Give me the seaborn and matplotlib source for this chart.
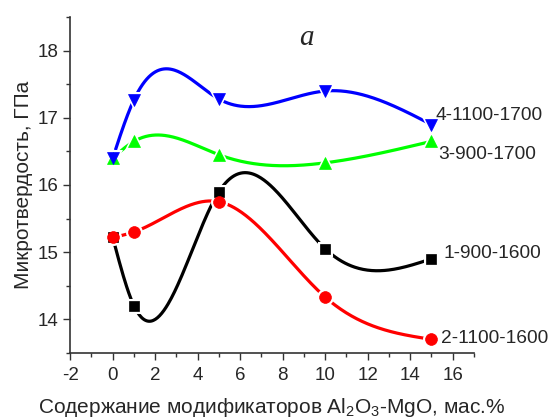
import matplotlib.pyplot as plt
from matplotlib.ticker import MultipleLocator
import seaborn as sns
import numpy as np
import pandas as pd

# data
content = [0, 1, 5, 10, 15]
s1_900_1600 = [15.22, 14.2, 15.9, 15.05, 14.9]
s2_1100_1600 = [15.22, 15.3, 15.75, 14.33, 13.7]
s3_900_1700 = [16.4, 16.65, 16.45, 16.33, 16.65]
s4_1100_1700 = [16.4, 17.27, 17.28, 17.4, 16.9]
labels = ['1-900-1600', '2-1100-1600', '3-900-1700', '4-1100-1700']


def natural_spline(x, y, n=300):
    '''Natural cubic spline through the points, like Origin's spline line.'''
    x = np.asarray(x, float)
    y = np.asarray(y, float)
    k = len(x)
    h = np.diff(x)
    A = np.zeros((k, k))
    b = np.zeros(k)
    A[0, 0] = A[-1, -1] = 1
    for i in range(1, k - 1):
        A[i, i - 1] = h[i - 1]
        A[i, i] = 2 * (h[i - 1] + h[i])
        A[i, i + 1] = h[i]
        b[i] = 6 * ((y[i + 1] - y[i]) / h[i] - (y[i] - y[i - 1]) / h[i - 1])
    M = np.linalg.solve(A, b)
    xs = np.linspace(x[0], x[-1], n)
    idx = np.clip(np.searchsorted(x, xs) - 1, 0, k - 2)
    x0, x1 = x[idx], x[idx + 1]
    hh = x1 - x0
    t0, t1 = x1 - xs, xs - x0
    ys = (M[idx] * t0**3 + M[idx + 1] * t1**3) / (6 * hh) \
        + (y[idx] / hh - M[idx] * hh / 6) * t0 \
        + (y[idx + 1] / hh - M[idx + 1] * hh / 6) * t1
    return xs, ys


sns.set_style('ticks')
plt.rcParams['font.family'] = ['Liberation Sans', 'DejaVu Sans']
plt.rcParams['mathtext.fontset'] = 'custom'
plt.rcParams['mathtext.rm'] = 'Liberation Sans'
plt.rcParams['mathtext.it'] = 'Liberation Sans:italic'
plt.rcParams['axes.unicode_minus'] = False

fig = plt.figure(figsize=(5.53, 4.19), dpi=100)
ax = fig.add_axes([0.127, 0.158, 0.730, 0.801])

series = [
    (s1_900_1600, '#000000', 's', 9),
    (s2_1100_1600, '#ff0000', 'o', 10),
    (s3_900_1700, '#00ff00', '^', 10),
    (s4_1100_1700, '#0000ff', 'v', 10),
]

for vals, col, mk, ms in series:
    xs, ys = natural_spline(content, vals)
    sns.lineplot(x=xs, y=ys, color=col, lw=2.3, ax=ax, sort=False)
    ax.plot(content, vals, ls='none', marker=mk, ms=ms, color=col,
            mec='white', mew=2.2, zorder=3)
    ax.plot(content, vals, ls='none', marker=mk, ms=ms - 1.5, color=col,
            mec=col, mew=0.5, zorder=4)

# end labels
ax.text(15.18, 17.04, labels[3], fontsize=13.8, va='center')
ax.text(15.32, 16.46, labels[2], fontsize=13.8, va='center')
ax.text(15.56, 14.98, labels[0], fontsize=13.8, va='center')
ax.text(15.45, 13.72, labels[1], fontsize=13.8, va='center')
ax.text(9.1, 18.19, 'a', fontsize=21, style='italic',
        family='Liberation Serif', ha='center', va='center')

ax.set_xlim(-2, 17)
ax.set_ylim(13.5, 18.5)
ax.xaxis.set_major_locator(MultipleLocator(2))
ax.xaxis.set_minor_locator(MultipleLocator(1))
ax.yaxis.set_major_locator(MultipleLocator(1))
ax.yaxis.set_minor_locator(MultipleLocator(0.5))
ax.set_yticks([14, 15, 16, 17, 18])
ax.tick_params(which='major', length=5, width=1, labelsize=13.5, color='#333333')
ax.tick_params(axis='x', which='major', pad=5)
ax.tick_params(which='minor', length=3, width=1, color='#333333')
for sp in ['top', 'right']:
    ax.spines[sp].set_visible(False)
for sp in ['left', 'bottom']:
    ax.spines[sp].set_color('#333333')
    ax.spines[sp].set_linewidth(1.2)

ax.set_xlabel('Содержание модификаторов Al$_2$O$_3$-MgO, мас.%', fontsize=15,
              labelpad=9)
ax.set_ylabel('Микротвердость, ГПа', fontsize=15, labelpad=3)

fig.savefig('out.png', dpi=100)
